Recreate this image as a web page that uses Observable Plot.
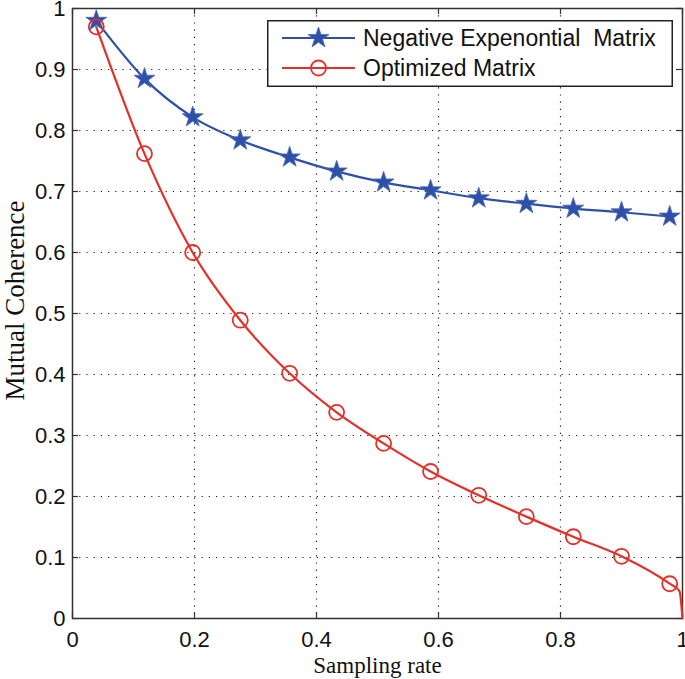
<!DOCTYPE html>
<html><head><meta charset="utf-8">
<script src="https://cdn.jsdelivr.net/npm/d3@7"></script>
<script src="https://cdn.jsdelivr.net/npm/@observablehq/plot@0.6"></script>
<style>
body{margin:0;background:#fff}
#wrap{position:relative;width:685px;height:679px}
#legend{position:absolute;left:267px;top:20px}
</style>
</head><body><div id="wrap"></div>
<script>
// Data
const samplingRate = [0.039, 0.118, 0.197, 0.275, 0.356, 0.433, 0.51, 0.587, 0.666, 0.744, 0.821, 0.9, 0.979];
const negativeExp  = [0.980, 0.885, 0.822, 0.784, 0.756, 0.733, 0.715, 0.702, 0.689, 0.680, 0.672, 0.666, 0.659];
const optimized    = [0.970, 0.762, 0.600, 0.489, 0.402, 0.338, 0.287, 0.241, 0.202, 0.167, 0.134, 0.102, 0.057];
const optimizedTailX = [0.995, 1.0];
const optimizedTailY = [0.045, 0.0];
const xTicks = [0, 0.2, 0.4, 0.6, 0.8, 1];
const yTicks = [0, 0.1, 0.2, 0.3, 0.4, 0.5, 0.6, 0.7, 0.8, 0.9, 1];
const seriesNames = ["Negative Expenontial  Matrix", "Optimized Matrix"];
const xLabel = "Sampling rate";
const yLabel = "Mutual Coherence";

const BLUE = "#2F50A9", RED = "#E3312A";
const W = 685, H = 679, mL = 72, mR = 3, mT = 8, mB = 61;
const fh = H - mT - mB, fw = W - mL - mR;

const blueData = samplingRate.map((x, i) => ({x, y: negativeExp[i]}));
const redMarkers = samplingRate.map((x, i) => ({x, y: optimized[i]}));
const redLine = redMarkers.concat(optimizedTailX.map((x, i) => ({x, y: optimizedTailY[i]})));

const fmt = d3.format("~g");
const tickFont = {fontSize: 22, fontFamily: "'Liberation Sans', Arial, sans-serif", fill: "#111", tickFormat: fmt};
const serif = "'Liberation Serif', 'Times New Roman', serif";

const chart = Plot.plot({
  width: W, height: H,
  marginLeft: mL, marginRight: mR, marginTop: mT, marginBottom: mB,
  x: {domain: [0, 1]},
  y: {domain: [0, 1]},
  style: {background: "#fff", overflow: "visible"},
  marks: [
    Plot.gridX(xTicks.slice(1, -1), {stroke: "#000", strokeOpacity: 0.9, strokeWidth: 1.2, strokeDasharray: "1.2,6"}),
    Plot.gridY(yTicks.slice(1, -1), {stroke: "#000", strokeOpacity: 0.9, strokeWidth: 1.2, strokeDasharray: "1.2,6"}),
    // inward tick marks (box style)
    Plot.tickX(xTicks, {x: d => d, insetTop: fh - 6, stroke: "#333", strokeWidth: 1.2}),
    Plot.tickX(xTicks, {x: d => d, insetBottom: fh - 6, stroke: "#333", strokeWidth: 1.2}),
    Plot.tickY(yTicks, {y: d => d, insetRight: fw - 6, stroke: "#333", strokeWidth: 1.2}),
    Plot.tickY(yTicks, {y: d => d, insetLeft: fw - 6, stroke: "#333", strokeWidth: 1.2}),
    Plot.axisX(xTicks, {tickSize: 0, tickPadding: 13, label: null, ...tickFont}),
    Plot.axisY(yTicks, {tickSize: 0, tickPadding: 7, label: null, ...tickFont}),
    Plot.frame({stroke: "#333", strokeWidth: 1.5}),
    Plot.line(blueData, {x: "x", y: "y", stroke: BLUE, strokeWidth: 2.2, curve: "monotone-x"}),
    Plot.dot(blueData, {x: "x", y: "y", symbol: "star", r: 6.6, fill: BLUE, stroke: "#4a68b8", strokeWidth: 0.8}),
    Plot.line(redLine, {x: "x", y: "y", stroke: RED, strokeWidth: 2.2, curve: "monotone-x"}),
    Plot.dot(redMarkers, {x: "x", y: "y", symbol: "circle", r: 7.5, fill: "none", stroke: RED, strokeWidth: 1.8}),
    Plot.text([xLabel], {frameAnchor: "bottom", lineAnchor: "middle", textAnchor: "middle", dy: 47, fontSize: 23, fontFamily: serif, fill: "#111"}),
    Plot.text([yLabel], {frameAnchor: "left", lineAnchor: "middle", textAnchor: "middle", dx: -57, dy: -13, rotate: -90, fontSize: 27, fontFamily: serif, fill: "#111"})
  ]
});
document.getElementById("wrap").appendChild(chart);

// Legend (inside the plot, top-right)
const lg = d3.select("#wrap").append("svg").attr("id", "legend").attr("width", 406).attr("height", 67);
lg.append("rect").attr("x", 0.75).attr("y", 0.75).attr("width", 404.5).attr("height", 65.5)
  .attr("fill", "#fff").attr("stroke", "#222").attr("stroke-width", 1.5);
const rows = [{name: seriesNames[0], color: BLUE, sym: "star"}, {name: seriesNames[1], color: RED, sym: "circle"}];
rows.forEach((r, i) => {
  const cy = 18 + i * 30;
  lg.append("line").attr("x1", 15).attr("x2", 88).attr("y1", cy).attr("y2", cy).attr("stroke", r.color).attr("stroke-width", 2.2);
  if (r.sym === "star") {
    lg.append("path").attr("d", d3.symbol(d3.symbolStar, Math.PI * 6.6 * 6.6)()).attr("transform", `translate(51.5,${cy})`)
      .attr("fill", r.color).attr("stroke", "#4a68b8").attr("stroke-width", 0.8);
  } else {
    lg.append("circle").attr("cx", 51.5).attr("cy", cy).attr("r", 7.5).attr("fill", "none").attr("stroke", r.color).attr("stroke-width", 1.8);
  }
  lg.append("text").attr("x", 96).attr("y", cy).attr("dy", "0.36em").attr("font-size", 23)
    .attr("font-family", "'Liberation Sans', Arial, sans-serif").attr("fill", "#111").style("white-space", "pre").text(r.name);
});
</script>
</body></html>
